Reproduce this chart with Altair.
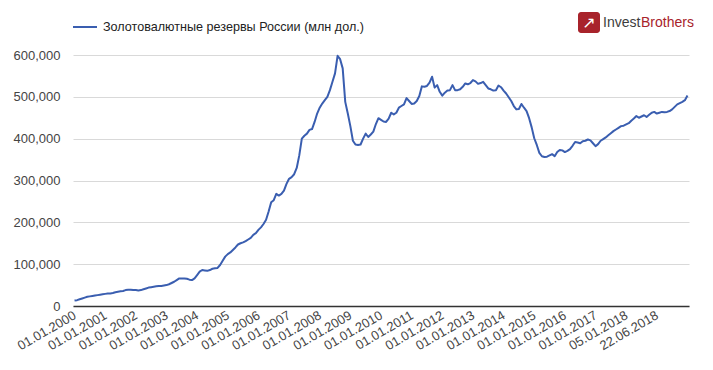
import altair as alt
import pandas as pd
from datetime import date, timedelta

# ---- data -------------------------------------------------------------
series_name = "Золотовалютные резервы России (млн дол.)"

tick_labels = [
    "01.01.2000", "01.01.2001", "01.01.2002", "01.01.2003", "01.01.2004",
    "01.01.2005", "01.01.2006", "01.01.2007", "01.01.2008", "01.01.2009",
    "01.01.2010", "01.01.2011", "01.01.2012", "01.01.2013", "01.01.2014",
    "01.01.2015", "01.01.2016", "01.01.2017", "05.01.2018", "22.06.2018",
]

# monthly observations 2000-2017, then fortnightly from 05.01.2018
monthly_dates = [f"01.{m:02d}.{y}" for y in range(2000, 2018) for m in range(1, 13)]
fortnight_dates = [(date(2018, 1, 5) + timedelta(days=14 * k)).strftime("%d.%m.%Y") for k in range(25)]
dates = monthly_dates + fortnight_dates

reserves = [
    # 2000
    13000, 14000, 16000, 18000, 20000, 22000, 23000, 24000, 25000, 26000, 27000, 28000,
    # 2001
    29000, 30000, 30000, 31000, 33000, 34000, 35000, 36000, 38000, 39000, 39000, 38000,
    # 2002
    38000, 37000, 38000, 40000, 42000, 44000, 45000, 46000, 47000, 48000, 48000, 49000,
    # 2003
    50000, 52000, 55000, 58000, 62000, 66000, 66000, 66000, 65000, 63000, 62000, 66000,
    # 2004
    74000, 82000, 86000, 85000, 84000, 86000, 89000, 90000, 91000, 98000, 108000, 118000,
    # 2005
    124000, 128000, 134000, 140000, 147000, 150000, 152000, 155000, 159000, 163000, 170000, 174000,
    # 2006
    182000, 188000, 196000, 206000, 226000, 248000, 253000, 268000, 264000, 268000, 276000, 292000,
    # 2007
    304000, 308000, 315000, 330000, 360000, 400000, 407000, 412000, 421000, 423000, 440000, 460000,
    # 2008
    474000, 484000, 492000, 500000, 516000, 536000, 556000, 598000, 590000, 568000, 488000, 460000,
    # 2009
    430000, 395000, 386000, 385000, 386000, 400000, 412000, 404000, 410000, 417000, 435000, 449000,
    # 2010
    445000, 441000, 440000, 448000, 462000, 458000, 462000, 474000, 478000, 482000, 497000, 490000,
    # 2011
    483000, 484000, 490000, 502000, 525000, 524000, 526000, 534000, 548000, 522000, 528000, 512000,
    # 2012
    503000, 510000, 515000, 516000, 528000, 516000, 516000, 518000, 524000, 532000, 530000, 533000,
    # 2013
    540000, 537000, 531000, 533000, 536000, 528000, 520000, 518000, 515000, 516000, 527000, 523000,
    # 2014
    515000, 508000, 499000, 490000, 478000, 470000, 471000, 483000, 474000, 466000, 449000, 427000,
    # 2015
    401000, 385000, 366000, 358000, 356000, 357000, 360000, 363000, 358000, 368000, 373000, 372000,
    # 2016
    368000, 371000, 375000, 383000, 392000, 391000, 389000, 394000, 395000, 398000, 396000, 389000,
    # 2017
    382000, 387000, 395000, 399000, 403000, 408000, 413000, 418000, 422000, 426000, 430000, 431000,
    # 2018-2019 fortnightly
    434000, 437000, 443000, 448000, 454000, 450000, 453000, 456000, 452000, 457000, 462000, 464000,
    460000, 462000, 464000, 463000, 464000, 466000, 470000, 476000, 482000, 485000, 488000, 492000,
    503000,
]

y_ticks = [0, 100000, 200000, 300000, 400000, 500000, 600000]

df = pd.DataFrame({"date": dates, "value": reserves, "series": series_name})

# ---- style ------------------------------------------------------------
LINE = "#3a5eb0"
FONT = "Liberation Sans"
W, H = 616, 251

line = alt.Chart(df).mark_line(color=LINE, strokeWidth=2, strokeJoin="round").encode(
    x=alt.X(
        "date:O",
        sort=None,
        title=None,
        scale=alt.Scale(type="point", padding=0.6),
        axis=alt.Axis(
            values=tick_labels,
            labelAngle=-30,
            labelAlign="right",
            labelBaseline="middle",
            labelPadding=8,
            labelFontSize=13,
            labelColor="#444444",
            labelFont=FONT,
            ticks=False,
            grid=False,
            domainColor="#333333",
            domainWidth=1.5,
            labelOverlap=False,
        ),
    ),
    y=alt.Y(
        "value:Q",
        title=None,
        scale=alt.Scale(domain=[0, 600000], nice=False),
        axis=alt.Axis(
            values=y_ticks,
            format=",.0f",
            labelFontSize=13,
            labelColor="#444444",
            labelFont=FONT,
            labelPadding=13,
            ticks=False,
            domain=False,
            gridColor="#d9d9d9",
        ),
    ),
)

one = alt.Data(values=[{}])

legend_line = alt.Chart(one).mark_rule(color=LINE, strokeWidth=2).encode(
    x=alt.value(0), x2=alt.value(24), y=alt.value(-28)
)
legend_text = alt.Chart(one).mark_text(
    text=series_name, align="left", baseline="middle", fontSize=12.6, font=FONT, color="#222222"
).encode(x=alt.value(30), y=alt.value(-28))

logo_box = alt.Chart(one).mark_rect(color="#a8232b", cornerRadius=3).encode(
    x=alt.value(505), x2=alt.value(527), y=alt.value(-43), y2=alt.value(-22)
)
logo_arrow = alt.Chart(one).mark_text(
    text="↗", align="center", baseline="middle", fontSize=16, font="DejaVu Sans", color="white"
).encode(x=alt.value(516), y=alt.value(-32))
logo_invest = alt.Chart(one).mark_text(
    text="Invest", align="left", baseline="middle", fontSize=14, font=FONT, color="#3d3d3d"
).encode(x=alt.value(530), y=alt.value(-32))
logo_brothers = alt.Chart(one).mark_text(
    text="Brothers", align="left", baseline="middle", fontSize=14, font=FONT, color="#a8232b"
).encode(x=alt.value(568), y=alt.value(-32))

chart = alt.layer(
    line, legend_line, legend_text, logo_box, logo_arrow, logo_invest, logo_brothers
).properties(
    width=W,
    height=H,
    autosize=alt.AutoSizeParams(type="none"),
    padding={"left": 65, "top": 47, "right": 10, "bottom": 50},
    background="white",
).configure_view(stroke=None)

chart.save("out.html", embed_options={"renderer": "svg", "actions": False})
